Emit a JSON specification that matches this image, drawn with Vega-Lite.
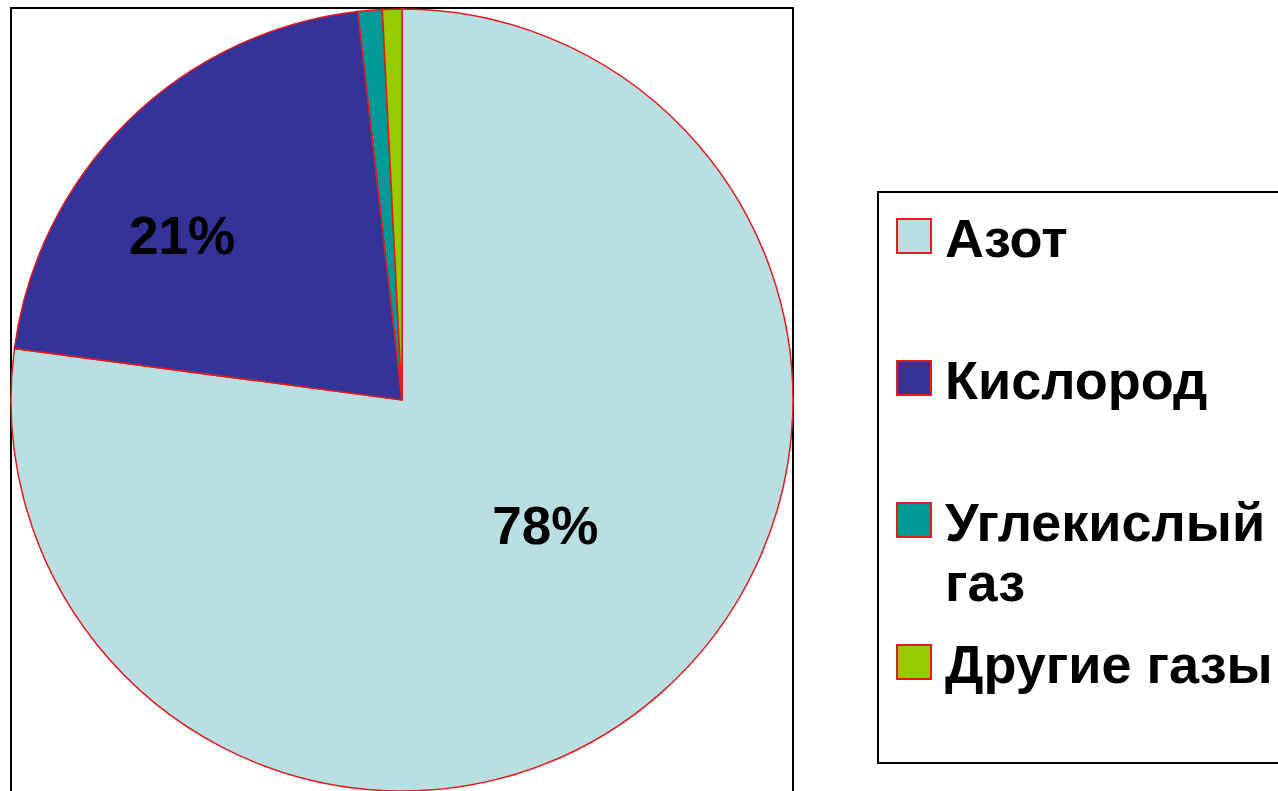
{
  "$schema": "https://vega.github.io/schema/vega-lite/v6.json",
  "width": 782,
  "height": 784,
  "padding": {"left": 8, "top": 6, "right": 0, "bottom": 0},
  "background": "white",
  "view": {"stroke": "black", "strokeWidth": 2},
  "config": {
    "view": {"stroke": "black", "strokeWidth": 2},
    "font": "Liberation Sans"
  },
  "layer": [
    {
      "data": {
        "values": [
          {"gas": "Азот", "pct": 77.1, "idx": 1},
          {"gas": "Кислород", "pct": 21.1, "idx": 2},
          {"gas": "Углекислый газ", "pct": 1.0, "idx": 3},
          {"gas": "Другие газы", "pct": 0.8, "idx": 4}
        ]
      },
      "mark": {"type": "arc", "stroke": "#E31A1C", "strokeWidth": 1.5},
      "encoding": {
        "theta": {"field": "pct", "type": "quantitative", "stack": true},
        "order": {"field": "idx", "type": "quantitative"},
        "color": {
          "field": "gas",
          "type": "nominal",
          "scale": {
            "domain": ["Азот", "Кислород", "Углекислый газ", "Другие газы"],
            "range": ["#BADFE3", "#333399", "#009999", "#99CC00"]
          },
          "legend": {
            "title": " ",
            "titleFontSize": 4,
            "titlePadding": 4,
            "orient": "none",
            "legendX": 867,
            "legendY": 184,
            "symbolType": "square",
            "symbolSize": 1150,
            "symbolStrokeColor": "#E31A1C",
            "symbolStrokeWidth": 2,
            "labelFont": "Liberation Sans",
            "labelFontWeight": "bold",
            "labelFontSize": 54,
            "labelColor": "black",
            "labelOffset": 4,
            "labelLimit": 2000,
            "labelBaseline": "top",
            "labelExpr": "datum.label == 'Углекислый газ' ? ['Углекислый', 'газ'] : [datum.label, '']",
            "rowPadding": 23,
            "padding": 9,
            "strokeColor": "black",
            "encode": {
              "legend": {"update": {"strokeWidth": {"value": 2}}},
              "labels": {"update": {"lineHeight": {"value": 60}, "dy": {"value": -22}}}
            }
          }
        }
      }
    },
    {
      "data": {
        "values": [
          {"label": "78%", "at": 36.6, "r": 192},
          {"label": "21%", "at": 85.1, "r": 273}
        ]
      },
      "mark": {"type": "text", "font": "Liberation Sans", "fontWeight": "bold", "fontSize": 53, "align": "center", "baseline": "middle", "color": "black"},
      "encoding": {
        "theta": {"field": "at", "type": "quantitative", "stack": null, "scale": {"domain": [0, 100]}},
        "radius": {"field": "r", "type": "quantitative", "scale": {"type": "linear", "domain": [0, 391], "range": [0, 391], "zero": true}},
        "text": {"field": "label", "type": "nominal"}
      }
    }
  ],
  "resolve": {"scale": {"theta": "independent"}}
}
